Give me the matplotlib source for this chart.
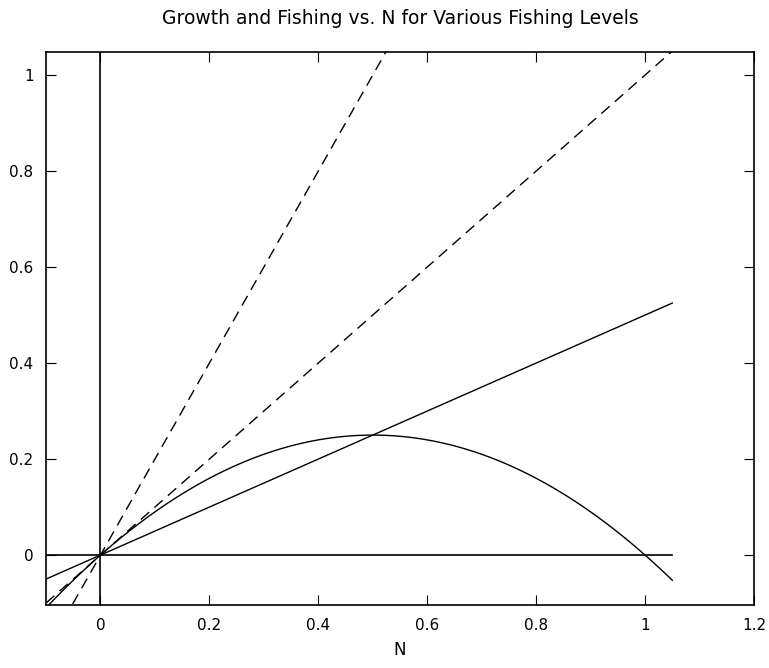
import numpy as np
import matplotlib
matplotlib.use("Agg")
import matplotlib.pyplot as plt

# population grid and fishing levels
n_start, n_stop = -0.1, 1.05
solid_levels = [0.5]
dashed_levels = [1.0, 2.0]

N = np.linspace(n_start, n_stop, 200)
growth = N * (1 - N)

fig = plt.figure(figsize=(7.69, 6.68), dpi=100)
ax = fig.add_axes([46 / 769, 1 - 605 / 668, 708 / 769, 553 / 668])

ax.plot(N, growth, color="k", lw=1)
for f in solid_levels:
    ax.plot(N, f * N, color="k", lw=1)
for f in dashed_levels:
    ax.plot(N, f * N, color="k", lw=1, ls=(0, (8, 5)))

# coordinate axes through the origin
ax.plot([n_start, n_stop], [0, 0], color="k", lw=1.2)
ax.plot([0, 0], [n_start, n_stop], color="k", lw=1.2)

ax.set_xlim(-0.1, 1.2)
ax.set_ylim(-0.104, 1.048)
ax.set_xticks(np.arange(0, 1.21, 0.2))
ax.set_xticklabels(["0", "0.2", "0.4", "0.6", "0.8", "1", "1.2"])
ax.set_yticks(np.arange(0, 1.01, 0.2))
ax.set_yticklabels(["0", "0.2", "0.4", "0.6", "0.8", "1"])
ax.tick_params(direction="in", top=True, right=True, length=7, labelsize=11, pad=9)
for s in ax.spines.values():
    s.set_linewidth(1.2)
ax.set_xlabel("N", fontsize=12, labelpad=6)
ax.set_title("Growth and Fishing vs. N for Various Fishing Levels", fontsize=13.5, pad=20)

fig.savefig("out.png", dpi=100)
